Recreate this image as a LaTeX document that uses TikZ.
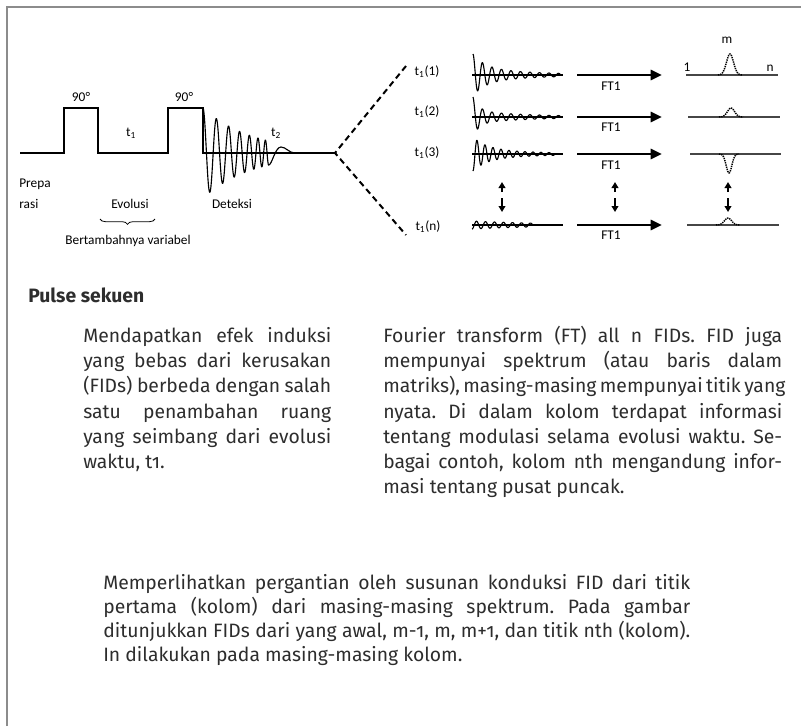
\documentclass[tikz,border=0pt]{standalone}
\usepackage{fontspec}
\setmainfont{Fira Sans}[Numbers=OldStyle]
\newfontfamily\labfont{Carlito}
\usetikzlibrary{arrows.meta,decorations.pathreplacing}
\definecolor{framec}{RGB}{140,140,140}
\definecolor{bodyc}{RGB}{45,45,45}
\definecolor{specc}{RGB}{70,70,70}
\frenchspacing
\begin{document}
\frenchspacing
\begin{tikzpicture}[x=0.75pt,y=-0.75pt,
  lab/.style={font=\labfont\fontsize{10}{12}\selectfont, inner sep=0pt},
  body/.style={font=\fontsize{14.5}{18.9}\selectfont\frenchspacing, text=bodyc, inner sep=0pt, anchor=base west},
  sig/.style={line width=1.1pt, line join=miter},
  fid/.style={line width=0.85pt, line join=round},
  rowline/.style={line width=1pt},
  specline/.style={line width=0.9pt, draw=specc},
  peak/.style={line width=1.1pt, dash pattern=on 1pt off 0.7pt},
  ftarrow/.style={line width=2.2pt, -{Triangle[length=8.5pt,width=7.5pt]}},
  varrow/.style={line width=1.5pt, -{Triangle[length=4.5pt,width=5pt]}},
  dashline/.style={line width=1.5pt, dash pattern=on 4.5pt off 3pt},
  bracesty/.style={line width=0.6pt, decorate, decoration={brace, amplitude=4pt}}]
\useasboundingbox (0,0) rectangle (801,726);
% frame
\draw[framec, line width=1.5pt] (7,726) -- (7,7) -- (801,7);

% pulse sequence
\coordinate (pstart) at (20,153);
\coordinate (vtx) at (335,153);
\draw[sig] (pstart) -- (64,153) -- (64,108) -- (98,108) -- (98,153) -- (168,153)
  -- (168,108) -- (203,108) -- (203,153) -- (vtx);
% detection FID
\draw[fid] plot[domain=0:65.65, samples=320, smooth]
  ({203+\x},{153-45*exp(-\x/50)*cos(300*(14-sqrt(196-2.4*\x)))})
  .. controls (272,165) and (275,147) .. (281,147)
  .. controls (286,147) and (289,153) .. (295,153);

\node[lab] (p90a) at (81,97) {90°};
\node[lab] (p90b) at (184,97) {90°};
\node[lab] (tone) at (131,133) {t\textsubscript{1}};
\node[lab] (ttwo) at (276,133) {t\textsubscript{2}};
\node[lab, anchor=west] (prepa) at (19,184) {Prepa};
\node[lab, anchor=west] (rasi) at (19,204) {rasi};
\node[lab] (evol) at (130,204) {Evolusi};
\node[lab] (detek) at (232,204) {Deteksi};
\coordinate (brA) at (155,219);
\coordinate (brB) at (100,219);
\draw[bracesty] (brA) -- (brB);
\node[lab] (bert) at (128,241) {Bertambahnya variabel};

% dashed V
\coordinate (vup) at (406,66);
\coordinate (vdn) at (406,235);
\draw[dashline] (vup) -- (vtx) -- (vdn);

% row labels
\node[lab] (r1) at (427,72) {t\textsubscript{1}(1)};
\node[lab] (r2) at (427,112) {t\textsubscript{1}(2)};
\node[lab] (r3) at (427,153) {t\textsubscript{1}(3)};
\node[lab] (rn) at (428,227) {t\textsubscript{1}(n)};

% FID rows
\draw[rowline] (472,75) -- (563,75);
\draw[fid] plot[domain=0:87.875, samples=300, smooth]
  ({473+\x},{75-(14*exp(-\x/12)+7*exp(-\x/60))*cos(37.8947*\x)});
\draw[rowline] (472,117) -- (563,117);
\draw[fid] plot[domain=0:87.875, samples=300, smooth]
  ({473+\x},{117-(14*exp(-\x/6)+6*exp(-\x/60))*cos(37.8947*\x)});
\draw[rowline] (472,154) -- (563,154);
\draw[fid] plot[domain=0:82, samples=300, smooth]
  ({473+\x},{154+(12*exp(-\x/14)+5*exp(-\x/60))*cos(45*\x)});
\draw[rowline] (472,225) -- (563,225);
\draw[fid] plot[domain=0:60.75, samples=200, smooth]
  ({472+\x},{225+4*exp(-\x/80)*cos(40*\x)});

% FT arrows
\foreach \y/\ly [count=\i] in {75/86,117/127,154/165,225/235}{
  \coordinate (fa\i) at (577,\y);
  \coordinate (fb\i) at (662,\y);
  \draw[ftarrow] (fa\i) -- (fb\i);
  \node[lab] (ft\i) at (611,\ly) {FT1};
}

% spectra
\draw[specline] (686,75) -- (778,75);
\draw[peak] plot[domain=-12:12, samples=41, smooth] ({730+\x},{75-21*exp(-\x*\x/25)});
\draw[specline] (688,117) -- (780,117);
\draw[peak] plot[domain=-12:12, samples=41, smooth] ({731+\x},{117-9*exp(-\x*\x/25)});
\draw[specline] (690,154) -- (781,154);
\draw[peak] plot[domain=-10:10, samples=41, smooth] ({729+\x},{154+19*exp(-\x*\x/16)});
\draw[specline] (687,225) -- (779,225);
\draw[peak] plot[domain=-12:12, samples=41, smooth] ({728+\x},{225-7*exp(-\x*\x/25)});
\node[lab] (mlab) at (727,40) {m};
\node[lab] (onelab) at (687,67) {1};
\node[lab] (nlab) at (770,68) {n};

% vertical double arrows
\foreach \x [count=\i] in {502,615,728}{
  \coordinate (ua\i) at (\x,192);
  \coordinate (ub\i) at (\x,182);
  \coordinate (da\i) at (\x,198);
  \coordinate (db\i) at (\x,212);
  \draw[varrow] (ua\i) -- (ub\i);
  \draw[varrow] (da\i) -- (db\i);
}

% texts
\node[body, font=\fontsize{14.5}{18.9}\selectfont\bfseries] (pulse) at (28,302) {Pulse sekuen};

\node[body] (a1) at (83,342.5) {\makebox[186pt][s]{Mendapatkan efek induksi}};
\node[body] (a2) at (83,367.7) {\makebox[186pt][s]{yang bebas dari kerusakan}};
\node[body] (a3) at (83,392.9) {\makebox[186pt][s]{(FIDs) berbeda dengan salah}};
\node[body] (a4) at (83,418.1) {\makebox[186pt][s]{satu penambahan ruang}};
\node[body] (a5) at (83,443.3) {\makebox[186pt][s]{yang seimbang dari evolusi}};
\node[body] (a6) at (83,468.5) {waktu, t1.};

\node[body] (b1) at (383,342.5) {\makebox[299.25pt][s]{Fourier transform (FT) all n FIDs. FID juga}};
\node[body] (b2) at (383,367.7) {\makebox[299.25pt][s]{mempunyai spektrum (atau baris dalam}};
\node[body] (b3) at (383,392.9) {\makebox[299.25pt][s]{matriks), masing-masing mempunyai titik yang}};
\node[body] (b4) at (383,418.1) {\makebox[299.25pt][s]{nyata. Di dalam kolom terdapat informasi}};
\node[body] (b5) at (383,443.3) {\makebox[299.25pt][s]{tentang modulasi selama evolusi waktu. Se-}};
\node[body] (b6) at (383,468.5) {\makebox[299.25pt][s]{bagai contoh, kolom nth mengandung infor-}};
\node[body] (b7) at (383,493.7) {masi tentang pusat puncak.};

\node[body] (c1) at (103,589) {\makebox[440.25pt][s]{Memperlihatkan pergantian oleh susunan konduksi FID dari titik}};
\node[body] (c2) at (103,613) {\makebox[440.25pt][s]{pertama (kolom) dari masing-masing spektrum. Pada gambar}};
\node[body] (c3) at (103,637) {\makebox[440.25pt][s]{ditunjukkan FIDs dari yang awal, m-1, m, m+1, dan titik nth (kolom).}};
\node[body] (c4) at (103,661) {In dilakukan pada masing-masing kolom.};
\end{tikzpicture}
\end{document}
